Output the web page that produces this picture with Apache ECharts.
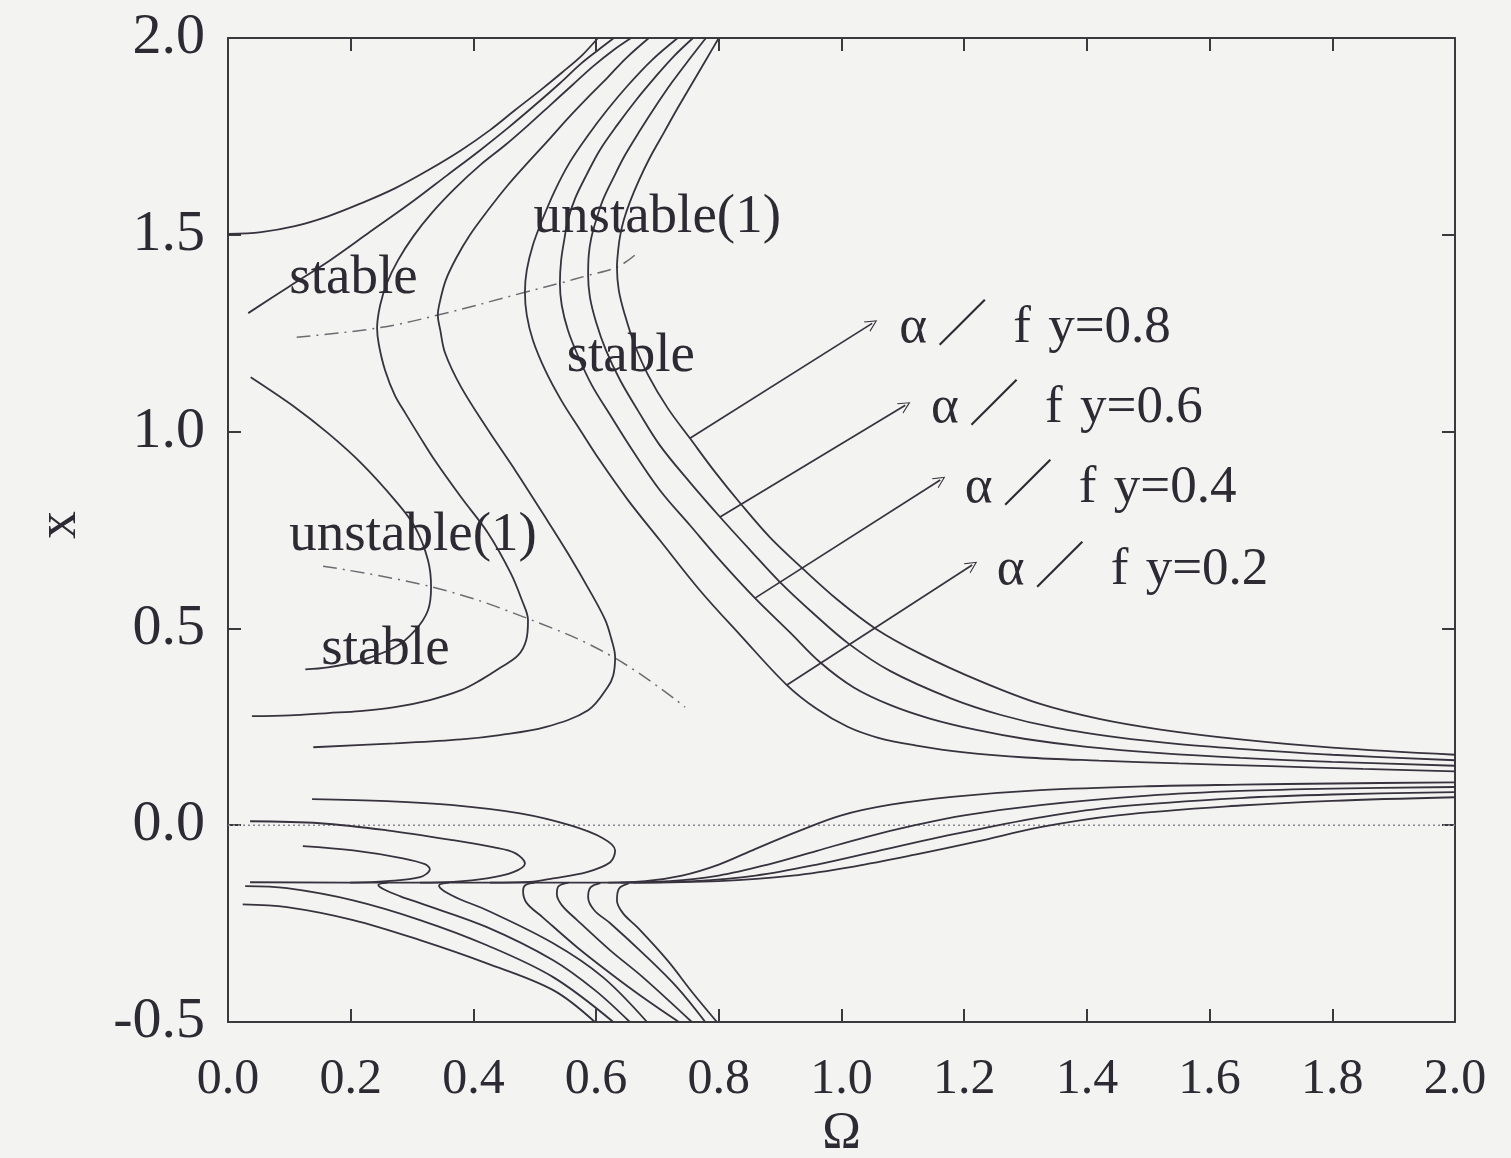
<!DOCTYPE html>
<html>
<head>
<meta charset="utf-8">
<script src="https://cdn.jsdelivr.net/npm/echarts@6/dist/echarts.min.js"></script>
<style>
  html, body { margin: 0; padding: 0; background: #f3f3f1; }
  #chart { width: 1511px; height: 1158px; }
</style>
</head>
<body>
<div id="chart"></div>
<script>
// Response curves x(Ω): each list is [Ω, x] along one branch.
const upperA = [[0,1.502],[0.054,1.507],[0.109,1.522],[0.163,1.547],[0.217,1.58],[0.272,1.618],[0.326,1.664],[0.38,1.715],[0.427,1.766],[0.468,1.817],[0.509,1.867],[0.545,1.913],[0.577,1.956],[0.603,2.0]];
const upperB = [[0.033,1.301],[0.098,1.367],[0.166,1.435],[0.231,1.507],[0.297,1.58],[0.357,1.651],[0.411,1.715],[0.456,1.771],[0.5,1.829],[0.541,1.885],[0.574,1.933],[0.603,1.969],[0.629,2.0]];
const branch1 = [[0.657,2.0],[0.628,1.969],[0.595,1.928],[0.561,1.88],[0.525,1.829],[0.489,1.778],[0.452,1.728],[0.411,1.677],[0.37,1.618],[0.333,1.557],[0.302,1.496],[0.277,1.435],[0.259,1.377],[0.248,1.321],[0.243,1.263],[0.246,1.22],[0.256,1.156],[0.272,1.092],[0.289,1.047],[0.313,0.986],[0.337,0.927],[0.38,0.833],[0.424,0.742],[0.461,0.64],[0.479,0.572],[0.489,0.521],[0.486,0.47],[0.473,0.432],[0.445,0.401],[0.411,0.368],[0.38,0.343],[0.329,0.318],[0.272,0.3],[0.215,0.29],[0.163,0.285],[0.101,0.279],[0.039,0.277]];
const branch2 = [[0.686,2.0],[0.649,1.949],[0.619,1.9],[0.587,1.85],[0.554,1.796],[0.522,1.74],[0.489,1.684],[0.456,1.626],[0.424,1.563],[0.394,1.499],[0.372,1.441],[0.355,1.385],[0.346,1.334],[0.342,1.296],[0.346,1.258],[0.354,1.199],[0.38,1.113],[0.424,1.004],[0.468,0.902],[0.51,0.8],[0.554,0.691],[0.592,0.589],[0.615,0.521],[0.624,0.478],[0.631,0.427],[0.628,0.381],[0.619,0.351],[0.587,0.292],[0.517,0.249],[0.443,0.229],[0.38,0.218],[0.272,0.208],[0.139,0.198]];
const innerLoop = [[0.037,1.138],[0.109,1.062],[0.163,0.996],[0.217,0.92],[0.272,0.826],[0.305,0.757],[0.326,0.673],[0.331,0.605],[0.326,0.546],[0.305,0.495],[0.272,0.452],[0.217,0.419],[0.163,0.401],[0.126,0.396]];
const fy02 = [[0.733,2.0],[0.691,1.944],[0.652,1.88],[0.618,1.817],[0.587,1.753],[0.557,1.684],[0.533,1.613],[0.512,1.537],[0.497,1.474],[0.487,1.41],[0.484,1.354],[0.487,1.296],[0.497,1.232],[0.517,1.156],[0.543,1.08],[0.574,1.004],[0.606,0.927],[0.652,0.826],[0.704,0.724],[0.769,0.597],[0.835,0.483],[0.911,0.356],[0.96,0.295],[1.01,0.25],[1.06,0.222],[1.12,0.203],[1.2,0.185],[1.3,0.172],[1.42,0.164],[1.55,0.157],[1.7,0.15],[1.85,0.143],[2.0,0.137]];
const fy04 = [[0.758,2.0],[0.727,1.954],[0.696,1.9],[0.665,1.842],[0.634,1.778],[0.606,1.715],[0.584,1.651],[0.566,1.593],[0.554,1.537],[0.548,1.486],[0.543,1.435],[0.541,1.377],[0.544,1.321],[0.554,1.258],[0.57,1.194],[0.593,1.118],[0.623,1.042],[0.659,0.953],[0.704,0.851],[0.753,0.762],[0.802,0.673],[0.859,0.577],[0.916,0.49],[0.965,0.414],[1.02,0.35],[1.08,0.305],[1.144,0.271],[1.22,0.242],[1.3,0.219],[1.4,0.199],[1.52,0.183],[1.65,0.171],[1.8,0.161],[2.0,0.151]];
const fy06 = [[0.779,2.0],[0.751,1.944],[0.724,1.888],[0.698,1.829],[0.672,1.766],[0.647,1.702],[0.628,1.644],[0.611,1.588],[0.6,1.537],[0.592,1.491],[0.588,1.448],[0.587,1.397],[0.59,1.341],[0.6,1.278],[0.616,1.207],[0.639,1.131],[0.668,1.054],[0.704,0.965],[0.753,0.871],[0.802,0.783],[0.851,0.699],[0.9,0.617],[0.957,0.534],[1.011,0.462],[1.079,0.392],[1.177,0.323],[1.26,0.28],[1.35,0.247],[1.45,0.223],[1.55,0.206],[1.65,0.194],[1.8,0.179],[2.0,0.165]];
const fy08 = [[0.8,2.0],[0.779,1.944],[0.756,1.883],[0.733,1.822],[0.711,1.761],[0.688,1.697],[0.67,1.639],[0.655,1.583],[0.645,1.537],[0.639,1.496],[0.636,1.461],[0.634,1.418],[0.637,1.359],[0.647,1.296],[0.663,1.22],[0.685,1.143],[0.717,1.059],[0.753,0.983],[0.794,0.897],[0.835,0.818],[0.883,0.732],[0.936,0.653],[0.994,0.572],[1.055,0.5],[1.128,0.436],[1.226,0.366],[1.324,0.308],[1.42,0.27],[1.52,0.243],[1.65,0.218],[1.8,0.197],[2.0,0.179]];
const lowLoop1 = [[0.137,0.066],[0.259,0.061],[0.367,0.051],[0.476,0.03],[0.557,0.0],[0.611,-0.033],[0.631,-0.064],[0.623,-0.094],[0.585,-0.119],[0.53,-0.135],[0.492,-0.144],[0.427,-0.146]];
const lowLoop2 = [[0.036,0.01],[0.15,0.005],[0.259,-0.013],[0.367,-0.038],[0.432,-0.056],[0.468,-0.071],[0.484,-0.097],[0.465,-0.119],[0.422,-0.135],[0.367,-0.144],[0.313,-0.146]];
const lowLoop3 = [[0.122,-0.053],[0.204,-0.064],[0.285,-0.084],[0.321,-0.099],[0.329,-0.112],[0.313,-0.132],[0.259,-0.142],[0.199,-0.146]];
const tail1 = [[0.036,-0.145],[0.3,-0.146],[0.6,-0.146],[0.68,-0.142],[0.74,-0.128],[0.8,-0.1],[0.86,-0.06],[0.93,-0.015],[1.0,0.025],[1.08,0.052],[1.18,0.072],[1.324,0.089],[1.5,0.099],[1.65,0.103],[1.8,0.106],[2.0,0.109]];
const tail2 = [[0.62,-0.146],[0.72,-0.142],[0.8,-0.128],[0.88,-0.1],[0.96,-0.065],[1.04,-0.03],[1.12,0.0],[1.2,0.025],[1.324,0.051],[1.5,0.075],[1.65,0.087],[1.8,0.093],[2.0,0.097]];
const tail3 = [[0.64,-0.146],[0.76,-0.142],[0.86,-0.128],[0.96,-0.1],[1.06,-0.065],[1.16,-0.03],[1.24,-0.005],[1.324,0.02],[1.45,0.047],[1.65,0.069],[1.8,0.078],[2.0,0.084]];
const tail4 = [[0.66,-0.146],[0.8,-0.142],[0.92,-0.128],[1.02,-0.105],[1.12,-0.075],[1.22,-0.042],[1.324,-0.005],[1.45,0.025],[1.65,0.05],[1.8,0.062],[2.0,0.071]];
const dropA = [[0.028,-0.155],[0.096,-0.16],[0.204,-0.191],[0.313,-0.241],[0.422,-0.305],[0.53,-0.386],[0.628,-0.5]];
const dropB = [[0.024,-0.201],[0.096,-0.208],[0.204,-0.241],[0.313,-0.292],[0.422,-0.351],[0.53,-0.419],[0.598,-0.5]];
const hook1 = [[0.26,-0.146],[0.245,-0.152],[0.253,-0.162],[0.28,-0.18],[0.313,-0.198],[0.422,-0.259],[0.53,-0.343],[0.598,-0.419],[0.655,-0.5]];
const hook2 = [[0.36,-0.146],[0.344,-0.153],[0.352,-0.167],[0.378,-0.188],[0.422,-0.216],[0.53,-0.3],[0.611,-0.386],[0.683,-0.5]];
const hook3 = [[0.5,-0.146],[0.484,-0.153],[0.481,-0.168],[0.487,-0.198],[0.513,-0.234],[0.569,-0.31],[0.623,-0.376],[0.676,-0.437],[0.735,-0.5]];
const hook4 = [[0.555,-0.146],[0.539,-0.155],[0.536,-0.175],[0.544,-0.203],[0.569,-0.241],[0.623,-0.318],[0.676,-0.386],[0.756,-0.5]];
const hook5 = [[0.607,-0.147],[0.591,-0.158],[0.587,-0.183],[0.597,-0.216],[0.623,-0.249],[0.676,-0.325],[0.732,-0.412],[0.778,-0.5]];
const hook6 = [[0.653,-0.148],[0.637,-0.162],[0.634,-0.191],[0.644,-0.224],[0.667,-0.259],[0.716,-0.343],[0.758,-0.427],[0.797,-0.5]];

// Stability boundaries (dash-dot) and the x = 0 reference line
const boundaryUpper = [[0.112,1.24],[0.243,1.263],[0.342,1.296],[0.484,1.354],[0.541,1.377],[0.587,1.397],[0.634,1.418],[0.663,1.448]];
const boundaryLower = [[0.155,0.658],[0.333,0.605],[0.487,0.526],[0.628,0.427],[0.745,0.3]];
const zeroLine = [[0.0,0.0],[2.0,0.0]];

// Axis ranges and ticks
const omegaTicks = [0.0,0.2,0.4,0.6,0.8,1.0,1.2,1.4,1.6,1.8,2.0];
const xTicks = [-0.5,0.0,0.5,1.0,1.5,2.0];

// Parameter labels: arrow from a curve point to its label
const paramValues = [0.8, 0.6, 0.4, 0.2];
const arrowStart = [[0.753,0.983],[0.802,0.783],[0.859,0.577],[0.911,0.356]];
const arrowEnd = [[1.05,1.275],[1.104,1.067],[1.161,0.877],[1.213,0.661]];
const paramAnchor = [[1.094,1.263],[1.146,1.059],[1.201,0.856],[1.253,0.648]];

// Region labels
const regionNames = ['unstable(1)','stable','stable','unstable(1)','stable'];
const regionAnchor = [[0.498,1.545],[0.1,1.39],[0.552,1.19],[0.1,0.735],[0.152,0.445]];

const INK = '#37323d';
const TEXT = '#2e2a33';
const SERIF = '"Liberation Serif", "DejaVu Serif", "Noto Serif", serif';

const curveList = [upperA, upperB, branch1, branch2, innerLoop, fy02, fy04, fy06, fy08,
  lowLoop1, lowLoop2, lowLoop3, tail1, tail2, tail3, tail4, dropA, dropB,
  hook1, hook2, hook3, hook4, hook5, hook6];

const chart = echarts.init(document.getElementById('chart'), null, { renderer: 'canvas' });

const axisCommon = {
  type: 'value',
  axisLine: { show: true, onZero: false, lineStyle: { color: '#3a3a3e', width: 2 } },
  axisTick: { show: true, inside: true, length: 13, lineStyle: { color: '#3a3a3e', width: 2 } },
  splitLine: { show: false }
};

const series = curveList.map(d => ({
  type: 'line', data: d, showSymbol: false, smooth: 0.35, silent: true,
  lineStyle: { color: INK, width: 1.8 }, z: 3
}));

[boundaryUpper, boundaryLower].forEach(d => series.push({
  type: 'line', data: d, showSymbol: false, smooth: 0.4, silent: true,
  lineStyle: { color: '#6e6a72', width: 1.5, type: [14, 6, 2, 6] }, z: 2
}));
series.push({
  type: 'line', data: zeroLine, showSymbol: false, silent: true,
  lineStyle: { color: '#8a8690', width: 1.5, type: [2, 3] }, z: 1
});
// open chevron arrowheads
series.push({
  type: 'lines', coordinateSystem: 'cartesian2d', silent: true,
  symbol: ['none', 'path://M0,20 L10,0 L20,20 L18,20 L10,4 L2,20 Z'], symbolSize: [11, 12],
  lineStyle: { color: INK, width: 1.7, opacity: 1 },
  data: arrowStart.map((s, i) => ({ coords: [s, arrowEnd[i]] })), z: 4
});

chart.setOption({
  backgroundColor: '#f3f3f1',
  animation: false,
  grid: { left: 228, right: 56, top: 38, bottom: 136 },
  xAxis: [
    Object.assign({}, axisCommon, {
      min: omegaTicks[0], max: omegaTicks[omegaTicks.length - 1], interval: 0.2, position: 'bottom',
      axisLabel: { show: true, margin: 33, color: TEXT, fontFamily: SERIF, fontSize: 50,
        formatter: v => v.toFixed(1) }
    }),
    Object.assign({}, axisCommon, {
      min: omegaTicks[0], max: omegaTicks[omegaTicks.length - 1], interval: 0.2, position: 'top',
      axisLabel: { show: false }
    })
  ],
  yAxis: [
    Object.assign({}, axisCommon, {
      min: xTicks[0], max: xTicks[xTicks.length - 1], interval: 0.5, position: 'left',
      axisLabel: { show: true, margin: 23, color: TEXT, fontFamily: SERIF, fontSize: 58,
        formatter: v => v.toFixed(1) }
    }),
    Object.assign({}, axisCommon, {
      min: xTicks[0], max: xTicks[xTicks.length - 1], interval: 0.5, position: 'right',
      axisLabel: { show: false }
    })
  ],
  series: series
});

// Text annotations placed at data positions
const px = p => chart.convertToPixel({ gridIndex: 0 }, p);
const textStyle = (t, font, extra) => Object.assign({
  text: t, fill: TEXT, font: font, verticalAlign: 'middle', align: 'left'
}, extra || {});

const graphics = [];
regionNames.forEach((t, i) => {
  const p = px(regionAnchor[i]);
  graphics.push({ type: 'text', x: p[0], y: p[1], z: 10, style: textStyle(t, '55px ' + SERIF) });
});
paramValues.forEach((v, i) => {
  const p = px(paramAnchor[i]);
  const pieces = [
    { t: 'α', dx: 0, dy: 0, font: '53px ' + SERIF },
    { t: '／', dx: 38, dy: -6, font: '50px "Noto Sans CJK JP", sans-serif' },
    { t: 'f', dx: 114, dy: 0, font: '53px ' + SERIF },
    { t: 'y=' + v.toFixed(1), dx: 149, dy: 0, font: '53px ' + SERIF }
  ];
  pieces.forEach(pc => graphics.push({ type: 'text', x: p[0] + pc.dx, y: p[1] + pc.dy, z: 10,
    style: textStyle(pc.t, pc.font) }));
});
// axis titles
const g = chart.getModel().getComponent('grid', 0).coordinateSystem.getRect();
graphics.push({ type: 'text', x: g.x + g.width / 2, y: 1134, z: 10,
  style: textStyle('Ω', '52px ' + SERIF, { align: 'center' }) });
graphics.push({ type: 'text', x: 60, y: g.y + g.height / 2 - 5, rotation: Math.PI / 2, z: 10,
  style: textStyle('x', '56px ' + SERIF, { align: 'center' }) });

chart.setOption({ graphic: graphics });
</script>
</body>
</html>
